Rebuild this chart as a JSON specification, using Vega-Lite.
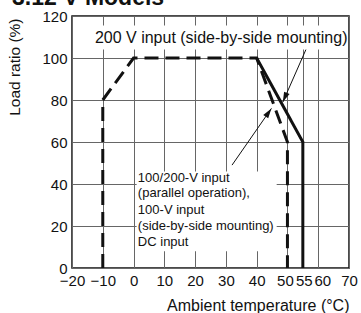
{
  "$schema": "https://vega.github.io/schema/vega-lite/v6.json",
  "width": 277,
  "height": 252,
  "autosize": "none",
  "padding": {"left": 72, "top": 16, "right": 12, "bottom": 45},
  "title": {"text": "3.12 V Models", "anchor": "start", "frame": "group", "fontSize": 23, "fontWeight": "bold", "font": "Liberation Sans", "color": "#111", "dx": -60, "offset": -19, "baseline": "alphabetic"},
  "config": {
    "font": "Liberation Sans",
    "view": {"stroke": "#111", "strokeWidth": 1.5},
    "axis": {"gridColor": "#666", "gridWidth": 1, "gridOpacity": 1, "domain": false, "ticks": false, "labelColor": "#111", "titleColor": "#111", "titleFontWeight": "normal"}
  },
  "datasets": {
    "curves": [
      {"series": "dc", "temp": -10, "load": 0, "o": 1},
      {"series": "dc", "temp": -10, "load": 80, "o": 2},
      {"series": "dc", "temp": 0, "load": 100, "o": 3},
      {"series": "dc", "temp": 40, "load": 100, "o": 4},
      {"series": "dc", "temp": 50, "load": 60, "o": 5},
      {"series": "dc", "temp": 50, "load": 0, "o": 6},
      {"series": "ac200", "temp": 40, "load": 100, "o": 1},
      {"series": "ac200", "temp": 55, "load": 60, "o": 2},
      {"series": "ac200", "temp": 55, "load": 0, "o": 3}
    ],
    "boxes": [
      {"x": -14.5, "x2": 69.6, "y": 104, "y2": 115.5},
      {"x": 1, "x2": 46.5, "y": 8, "y2": 46}
    ],
    "arrows": [
      {"x": 56, "y": 104, "x2": 48.5, "y2": 79, "hx": 49.14, "hy": 81.2, "ang": 203.75},
      {"x": 32, "y": 49, "x2": 44.8, "y2": 76, "hx": 43.87, "hy": 74.05, "ang": 34.8}
    ],
    "big": [
      {"x": 69.5, "y": 109.3, "label": "200 V input (side-by-side mounting)"}
    ],
    "small": [
      {"x": 1.4, "y": 42.9, "label": "100/200-V input"},
      {"x": 1.4, "y": 35.5, "label": "(parallel operation),"},
      {"x": 1.4, "y": 27.6, "label": "100-V input"},
      {"x": 1.4, "y": 20, "label": "(side-by-side mounting)"},
      {"x": 1.4, "y": 12.6, "label": "DC input"}
    ]
  },
  "layer": [
    {
      "data": {"name": "boxes"},
      "mark": {"type": "rect", "color": "white"},
      "encoding": {
        "x": {"field": "x", "type": "quantitative", "scale": {"domain": [-20, 70], "nice": false, "zero": false},
          "axis": {"values": [-20, -10, 0, 10, 20, 30, 40, 50, 55, 60, 70], "tickCount": 30, "grid": true, "labelFontSize": 15, "labelPadding": 5, "labelFlush": false, "labelOverlap": false,
            "labelOffset": {"expr": "datum.value == 50 ? -2.5 : datum.value == 55 ? 1 : datum.value == 60 ? 4 : 0"},
            "title": "Ambient temperature (°C)", "titleFontSize": 16, "titleAnchor": "end", "titleX": 277, "titleY": 37, "titleAlign": "right", "titleBaseline": "middle"}},
        "x2": {"field": "x2"},
        "y": {"field": "y", "type": "quantitative", "scale": {"domain": [0, 120], "nice": false, "zero": false},
          "axis": {"values": [0, 20, 40, 60, 80, 100, 120], "tickCount": 30, "grid": true, "labelFontSize": 15, "labelPadding": 5,
            "labelFlush": false, "labelOverlap": false,
            "title": "Load ratio (%)", "titleFontSize": 15.5, "titleAngle": -90, "titleX": -58, "titleY": 2, "titleAlign": "right", "titleBaseline": "middle"}},
        "y2": {"field": "y2"}
      }
    },
    {
      "data": {"name": "curves"},
      "mark": {"type": "line", "strokeWidth": 3, "color": "#111", "strokeCap": "butt"},
      "encoding": {
        "x": {"field": "temp", "type": "quantitative"},
        "y": {"field": "load", "type": "quantitative"},
        "detail": {"field": "series"},
        "order": {"field": "o", "type": "quantitative"},
        "strokeDash": {"field": "series", "type": "nominal", "scale": {"domain": ["ac200", "dc"], "range": [[1, 0], [14, 7]]}, "legend": null}
      }
    },
    {
      "data": {"name": "arrows"},
      "mark": {"type": "rule", "strokeWidth": 1, "color": "#111"},
      "encoding": {
        "x": {"field": "x", "type": "quantitative"},
        "y": {"field": "y", "type": "quantitative"},
        "x2": {"field": "x2"},
        "y2": {"field": "y2"}
      }
    },
    {
      "data": {"name": "arrows"},
      "mark": {"type": "point", "filled": true, "opacity": 1, "color": "#111", "shape": "M0,-1L0.6,1L-0.6,1Z", "size": 100},
      "encoding": {
        "x": {"field": "hx", "type": "quantitative"},
        "y": {"field": "hy", "type": "quantitative"},
        "angle": {"field": "ang", "type": "quantitative", "scale": null}
      }
    },
    {
      "data": {"name": "big"},
      "mark": {"type": "text", "align": "right", "baseline": "middle", "fontSize": 16, "color": "#111"},
      "encoding": {
        "x": {"field": "x", "type": "quantitative"},
        "y": {"field": "y", "type": "quantitative"},
        "text": {"field": "label"}
      }
    },
    {
      "data": {"name": "small"},
      "mark": {"type": "text", "align": "left", "baseline": "middle", "fontSize": 13, "color": "#111"},
      "encoding": {
        "x": {"field": "x", "type": "quantitative"},
        "y": {"field": "y", "type": "quantitative"},
        "text": {"field": "label"}
      }
    }
  ]
}
